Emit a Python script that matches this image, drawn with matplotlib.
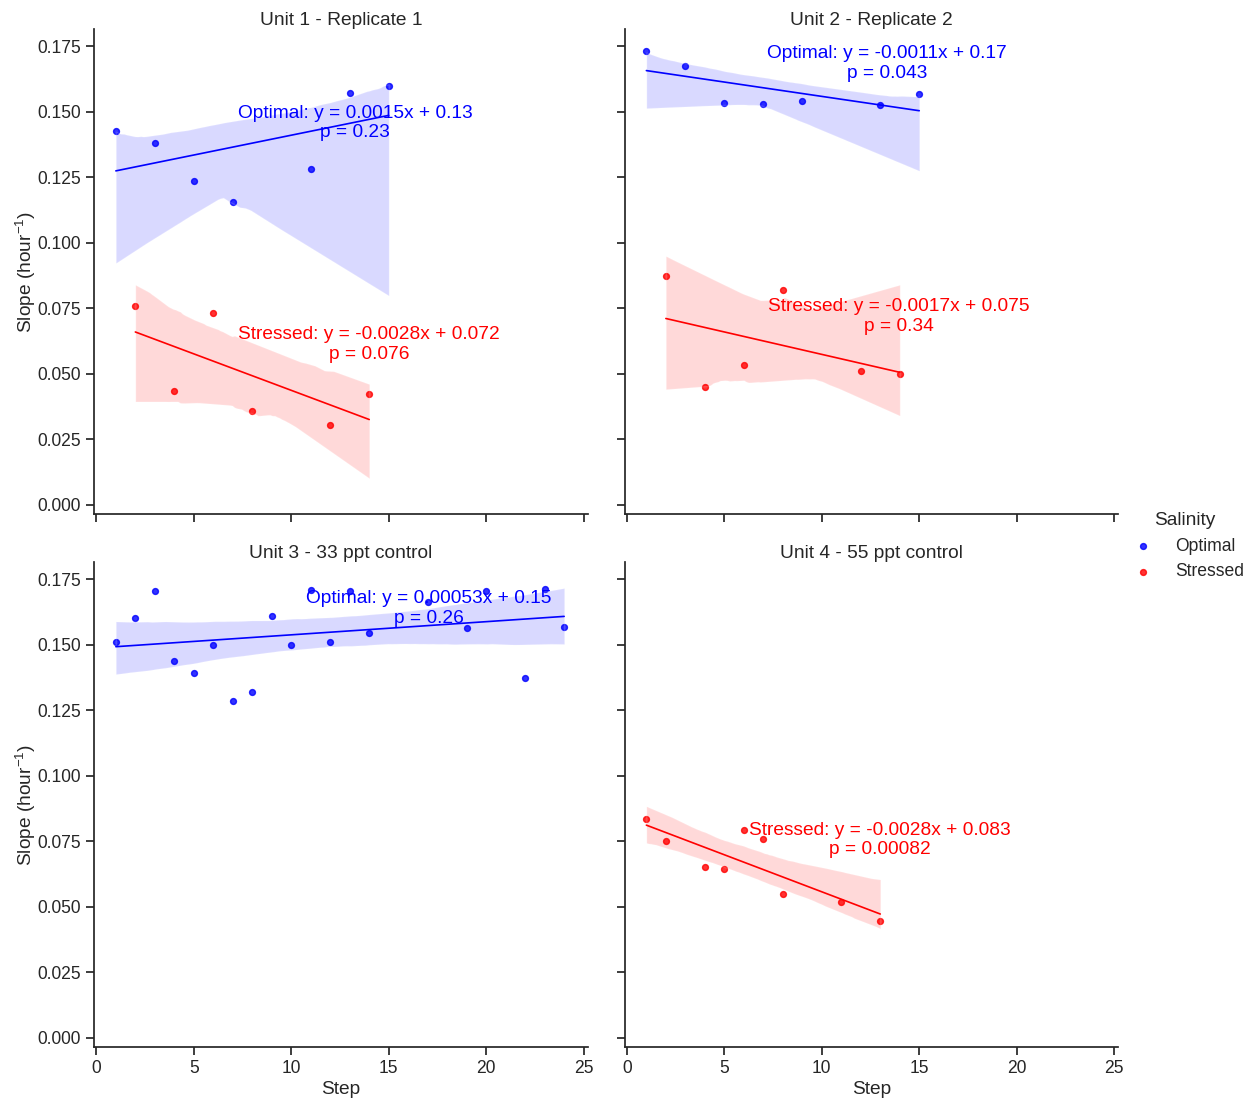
import matplotlib
matplotlib.use("Agg")
import matplotlib.pyplot as plt
import seaborn as sns
import pandas as pd

# Datos: pendiente por paso, por unidad y salinidad
unit_names = ["Unit 1 - Replicate 1", "Unit 2 - Replicate 2",
              "Unit 3 - 33 ppt control", "Unit 4 - 55 ppt control"]

u1_opt_step = [1, 3, 5, 7, 11, 13, 15]
u1_opt_slope = [0.1425, 0.1379, 0.1235, 0.1155, 0.1282, 0.1570, 0.1597]
u1_str_step = [2, 4, 6, 8, 12, 14]
u1_str_slope = [0.0758, 0.0434, 0.0732, 0.0358, 0.0305, 0.0423]

u2_opt_step = [1, 3, 5, 7, 9, 13, 15]
u2_opt_slope = [0.1730, 0.1673, 0.1532, 0.1528, 0.1539, 0.1524, 0.1566]
u2_str_step = [2, 4, 6, 8, 12, 14]
u2_str_slope = [0.0872, 0.0450, 0.0533, 0.0819, 0.0510, 0.0499]

u3_opt_step = [1, 2, 3, 4, 5, 6, 7, 8, 9, 10, 11, 12, 13, 14, 17, 19, 20, 22, 23, 24]
u3_opt_slope = [0.1509, 0.1602, 0.1703, 0.1438, 0.1390, 0.1497, 0.1285, 0.1321,
                0.1608, 0.1497, 0.1708, 0.1511, 0.1703, 0.1545, 0.1663, 0.1563,
                0.1703, 0.1372, 0.1711, 0.1567]

u4_str_step = [1, 2, 4, 5, 6, 7, 8, 11, 13]
u4_str_slope = [0.0834, 0.0749, 0.0650, 0.0643, 0.0794, 0.0759, 0.0550, 0.0520, 0.0447]

# Textos de regresión (unidad, salinidad, texto)
ann_text = [
    (0, "Optimal", "Optimal: y = 0.0015x + 0.13\np = 0.23"),
    (0, "Stressed", "Stressed: y = -0.0028x + 0.072\np = 0.076"),
    (1, "Optimal", "Optimal: y = -0.0011x + 0.17\np = 0.043"),
    (1, "Stressed", "Stressed: y = -0.0017x + 0.075\np = 0.34"),
    (2, "Optimal", "Optimal: y = 0.00053x + 0.15\np = 0.26"),
    (3, "Stressed", "Stressed: y = -0.0028x + 0.083\np = 0.00082"),
]
# posiciones de los textos (x, y en coordenadas de datos)
ann_pos = [(13.27, 0.1457), (14.0, 0.0612), (13.34, 0.1683),
           (13.96, 0.0719), (17.04, 0.1637), (12.96, 0.0755)]

series = [
    (0, "Optimal", u1_opt_step, u1_opt_slope),
    (0, "Stressed", u1_str_step, u1_str_slope),
    (1, "Optimal", u2_opt_step, u2_opt_slope),
    (1, "Stressed", u2_str_step, u2_str_slope),
    (2, "Optimal", u3_opt_step, u3_opt_slope),
    (3, "Stressed", u4_str_step, u4_str_slope),
]
rows = []
for u, sal, xs, ys in series:
    for xv, yv in zip(xs, ys):
        rows.append({"Unit": unit_names[u], "Salinity": sal, "Step": xv, "Slope": yv})
df = pd.DataFrame(rows)

sns.set_theme(style="ticks", context="notebook", font_scale=1.15)
plt.rcParams["font.family"] = ["Liberation Sans", "DejaVu Sans"]
plt.rcParams["mathtext.fontset"] = "custom"
plt.rcParams["mathtext.rm"] = "Liberation Sans"
plt.rcParams["mathtext.default"] = "regular"

colores = {"Optimal": "blue", "Stressed": "red"}

g = sns.lmplot(data=df, x="Step", y="Slope", hue="Salinity", col="Unit",
               col_wrap=2, col_order=unit_names, hue_order=["Optimal", "Stressed"],
               palette=colores, height=5, aspect=1, seed=3,
               scatter_kws={"s": 18}, line_kws={"lw": 1.2})

g.figure.set_size_inches(12.52, 10.99)
g.set_titles("{col_name}", pad=3)
g.set(xlim=(-0.12, 25.2), ylim=(-0.0035, 0.1815))

axes = g.axes.flatten()
for i, ax in enumerate(axes):
    ax.set_xlabel("Step" if i >= 2 else "", labelpad=2.5)
    ax.set_ylabel(r"Slope (hour$^{-1}$)" if i % 2 == 0 else "", labelpad=-0.5)

for (u, sal, txt), (tx, ty) in zip(ann_text, ann_pos):
    axes[u].text(tx, ty, txt, color=colores[sal], ha="center", va="center",
                 multialignment="center", fontsize=13.8)

g.figure.subplots_adjust(left=0.0751, right=0.893, top=0.9736, bottom=0.0473,
                         wspace=0.075, hspace=0.099)
g._legend.set_bbox_to_anchor((1.006, 0.503))

g.figure.savefig("out.png", dpi=100)
